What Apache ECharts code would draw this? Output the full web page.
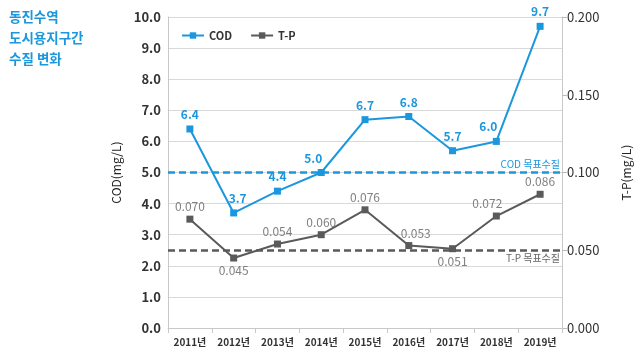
<!DOCTYPE html>
<html><head><meta charset="utf-8">
<script src="https://cdn.jsdelivr.net/npm/echarts@6/dist/echarts.min.js"></script>
<style>html,body{margin:0;padding:0;background:#fff}#c{width:640px;height:355px}</style>
</head><body><div id="c"></div>
<script>
const years = ['2011년','2012년','2013년','2014년','2015년','2016년','2017년','2018년','2019년'];
const cod = [6.4, 3.7, 4.4, 5.0, 6.7, 6.8, 5.7, 6.0, 9.7];
const tp = [0.070, 0.045, 0.054, 0.060, 0.076, 0.053, 0.051, 0.072, 0.086];
const codTarget = 5.0;
const tpTarget = 0.050;

const BLUE = '#1b97de', GRAY = '#5a5a5a';
const FONT = '"Noto Sans CJK KR", "Noto Sans", sans-serif';

const codOffsets = {1:[4,0], 3:[-8,0], 7:[-8,0]};
const tpBelow = {1:true, 6:true};
const tpOffsets = {7:[-9,0], 5:[7,0]};

const chart = echarts.init(document.getElementById('c'), null, {renderer:'canvas'});
chart.setOption({
  animation:false,
  textStyle:{fontFamily:FONT},
  graphic:[
    {type:'text', left:9, top:6, style:{text:'동진수역\n도시용지구간\n수질 변화', fill:BLUE, font:'bold 13.5px '+FONT, lineHeight:21}}
  ],
  legend:{
    left:176, top:25, itemWidth:22, itemHeight:8, itemGap:18,
    textStyle:{fontSize:11, fontWeight:'bold', color:'#333', fontFamily:FONT},
    data:['COD','T-P']
  },
  grid:{left:168, right:77, top:17, bottom:27},
  xAxis:{
    type:'category', data:years, boundaryGap:true,
    axisLine:{lineStyle:{color:'#c8c8c8', width:1}},
    axisTick:{show:true, length:5, lineStyle:{color:'#c8c8c8'}},
    axisLabel:{fontSize:10, fontWeight:'bold', color:'#333', margin:9, fontFamily:FONT}
  },
  yAxis:[
    {type:'value', min:0, max:10, interval:1, name:'COD(mg/L)', nameLocation:'middle', nameGap:31,
     nameTextStyle:{fontSize:12, color:'#222', fontFamily:FONT},
     axisLine:{show:true, lineStyle:{color:'#c8c8c8'}}, axisTick:{show:false},
     axisLabel:{fontSize:13, fontWeight:'bold', color:'#333', margin:7, formatter:v=>v.toFixed(1)},
     splitLine:{lineStyle:{color:'#d9d9d9', width:1}}},
    {type:'value', min:0, max:0.2, interval:0.05, name:'T-P(mg/L)', nameLocation:'middle', nameGap:58, nameRotate:90,
     nameTextStyle:{fontSize:12, color:'#222', fontFamily:FONT},
     axisLine:{show:true, lineStyle:{color:'#c8c8c8'}}, axisTick:{show:true, length:5, lineStyle:{color:'#bbb'}},
     axisLabel:{fontSize:13, color:'#333', margin:5, formatter:v=>v.toFixed(3)},
     splitLine:{show:false}}
  ],
  series:[
    {name:'COD', type:'line', yAxisIndex:0, symbol:'rect', symbolSize:7,
     itemStyle:{color:BLUE}, lineStyle:{color:BLUE, width:2},
     data:cod.map((v,i)=>({value:v, label:{offset:codOffsets[i]||[0,0]}})),
     label:{show:true, position:'top', distance:5, color:BLUE, fontSize:12, fontWeight:'bold', formatter:p=>p.value.toFixed(1)},
     markLine:{silent:true, symbol:'none', animation:false,
       lineStyle:{type:[7,4], color:BLUE, width:2.5},
       label:{position:'insideEndTop', formatter:'COD 목표수질', color:BLUE, fontSize:10, distance:[2,3]},
       data:[{yAxis:codTarget}]}
    },
    {name:'T-P', type:'line', yAxisIndex:1, symbol:'rect', symbolSize:7,
     itemStyle:{color:GRAY}, lineStyle:{color:GRAY, width:2},
     data:tp.map((v,i)=>({value:v, label:{position:tpBelow[i]?'bottom':'top', offset:tpOffsets[i]||[0,0]}})),
     label:{show:true, distance:3, color:'#808080', fontSize:12, formatter:p=>p.value.toFixed(3)},
     markLine:{silent:true, symbol:'none', animation:false,
       lineStyle:{type:[7,4], color:GRAY, width:2.5},
       label:{position:'insideEndBottom', formatter:'T-P 목표수질', color:'#666', fontSize:10, distance:[2,3]},
       data:[{yAxis:tpTarget}]}
    }
  ]
});
</script></body></html>
